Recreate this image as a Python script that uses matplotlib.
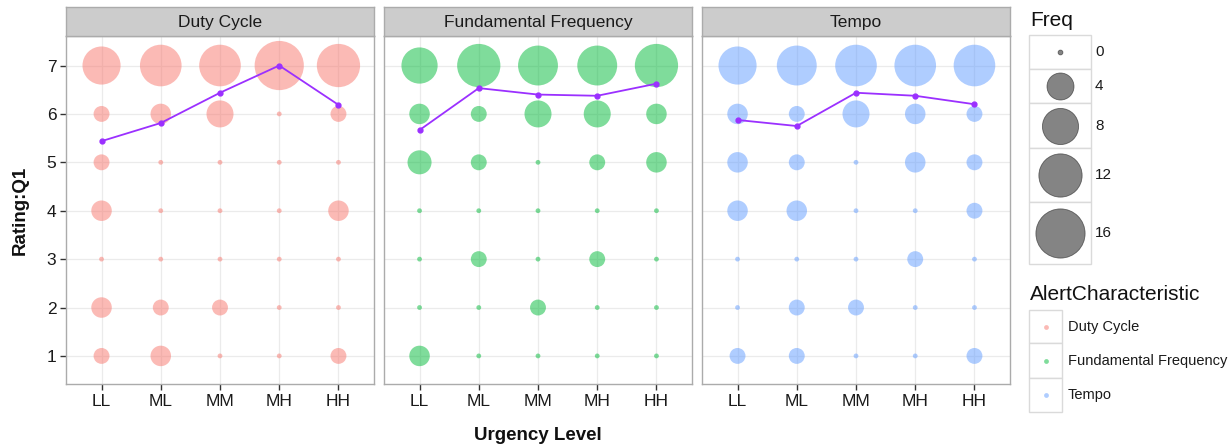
import numpy as np
import matplotlib
matplotlib.use("Agg")
import matplotlib.pyplot as plt
from matplotlib.patches import Rectangle

plt.rcParams['font.family'] = ['Liberation Sans', 'DejaVu Sans']

# ---- data -------------------------------------------------------------
levels = ["LL", "ML", "MM", "MH", "HH"]
ratings = [1, 2, 3, 4, 5, 6, 7]
characteristics = ["Duty Cycle", "Fundamental Frequency", "Tempo"]
colors = ["#F8766D", "#00BA38", "#619CFF"]

# counts of each rating (1..7) for every urgency level
duty_cycle = [
    [1, 2, 0, 2, 1, 1, 9],
    [2, 1, 0, 0, 0, 2, 11],
    [0, 1, 0, 0, 0, 4, 11],
    [0, 0, 0, 0, 0, 0, 16],
    [1, 0, 0, 2, 0, 1, 12],
]
fundamental_frequency = [
    [2, 0, 0, 0, 3, 2, 8],
    [0, 0, 1, 0, 1, 1, 12],
    [0, 1, 0, 0, 0, 4, 10],
    [0, 0, 1, 0, 1, 4, 10],
    [0, 0, 0, 0, 2, 2, 12],
]
tempo = [
    [1, 0, 0, 2, 2, 2, 9],
    [1, 1, 0, 2, 1, 1, 10],
    [0, 1, 0, 0, 0, 4, 11],
    [0, 0, 1, 0, 2, 2, 11],
    [1, 0, 0, 1, 1, 1, 11],
]
panels = [duty_cycle, fundamental_frequency, tempo]
freq_breaks = [0, 4, 8, 12, 16]

# ---- geometry ---------------------------------------------------------
W, H = 1231, 447
DPI = 100
fig = plt.figure(figsize=(W / DPI, H / DPI), dpi=DPI)


def px_box(left, top, right, bottom):
    return [left / W, 1 - bottom / H, (right - left) / W, (bottom - top) / H]


def size_pts2(f):
    # circle area scale: diameter grows with sqrt(freq)
    d_px = 4.8 + 11.1 * np.sqrt(np.asarray(f, dtype=float))
    return (d_px * 72.0 / DPI) ** 2


panel_x = [(66, 374), (384, 692), (702, 1010)]
panel_top, panel_bottom = 36, 384
strip_top = 7

border_col = "#ABABAB"
grid_col = "#EBEBEB"
line_col = "#9B30FF"

for i, (name, col, data) in enumerate(zip(characteristics, colors, panels)):
    l, r = panel_x[i]
    ax = fig.add_axes(px_box(l, panel_top, r, panel_bottom))
    ax.set_xlim(-0.6, 4.6)
    ax.set_ylim(0.42, 7.61)
    counts = np.array(data)
    xs, ys, fs = [], [], []
    for j in range(len(levels)):
        for k, rt in enumerate(ratings):
            xs.append(j)
            ys.append(rt)
            fs.append(counts[j, k])
    ax.scatter(xs, ys, s=size_pts2(fs), color=col, alpha=0.5,
               linewidths=0, zorder=3)
    means = (counts * np.array(ratings)).sum(axis=1) / counts.sum(axis=1)
    ax.plot(range(len(levels)), means, color=line_col, lw=1.3,
            marker="o", ms=3.5, zorder=4)

    ax.set_xticks(range(len(levels)))
    ax.set_xticklabels(levels)
    ax.set_yticks(ratings)
    ax.grid(True, color=grid_col, lw=0.9, zorder=0)
    ax.set_axisbelow(True)
    for sp in ax.spines.values():
        sp.set_color(border_col)
        sp.set_linewidth(1.0)
    ax.tick_params(axis="both", length=4, width=1, color="#333333",
                   labelsize=12.5, labelcolor="#1a1a1a", pad=3)
    if i == 0:
        ax.set_yticklabels([str(v) for v in ratings])
    else:
        ax.tick_params(axis="y", length=0, labelleft=False)

    sax = fig.add_axes(px_box(l, strip_top, r, panel_top))
    sax.set_xticks([])
    sax.set_yticks([])
    sax.set_facecolor("#CCCCCC")
    for sp in sax.spines.values():
        sp.set_color(border_col)
        sp.set_linewidth(1.0)
    sax.text(0.5, 0.48, name, ha="center", va="center", fontsize=12.5,
             color="#1a1a1a", transform=sax.transAxes)

fig.text(20 / W, 1 - 210 / H, "Rating:Q1", rotation=90, ha="center",
         va="center", fontsize=13.5, fontweight="bold", color="#111111")
fig.text(538 / W, 1 - 436 / H, "Urgency Level", ha="center", va="center",
         fontsize=13.5, fontweight="bold", color="#111111")

# ---- legends (drawn in pixel coordinates) -----------------------------
lax = fig.add_axes([0, 0, 1, 1], facecolor="none")
lax.set_xlim(0, W)
lax.set_ylim(H, 0)
lax.axis("off")

key_col = "#DADADA"
lax.text(1030, 20, "Freq", fontsize=15, ha="left", va="center", color="#111111")
freq_edges = [35, 69.3, 103.3, 148.3, 202.3, 264.3]
for n, fb in enumerate(freq_breaks):
    t, b = freq_edges[n], freq_edges[n + 1]
    lax.add_patch(Rectangle((1029, t), 62, b - t, facecolor="white",
                            edgecolor=key_col, lw=1.0))
    lax.scatter([1060], [(t + b) / 2], s=size_pts2(fb), color="#333333",
                alpha=0.6, edgecolors="#222222", linewidths=0.6, zorder=3)
    lax.text(1095, (t + b) / 2, str(fb), fontsize=11, ha="left",
             va="center", color="#1a1a1a")

lax.text(1030, 295, "AlertCharacteristic", fontsize=15, ha="left",
         va="center", color="#111111")
col_edges = [310, 343.3, 377.7, 411.7]
for n, (name, col) in enumerate(zip(characteristics, colors)):
    t, b = col_edges[n], col_edges[n + 1]
    lax.add_patch(Rectangle((1029, t), 33, b - t, facecolor="white",
                            edgecolor=key_col, lw=1.0))
    lax.scatter([1046], [(t + b) / 2], s=size_pts2(0), color=col, alpha=0.5,
                linewidths=0, zorder=3)
    lax.text(1068, (t + b) / 2, name, fontsize=10.5, ha="left", va="center",
             color="#1a1a1a")

fig.savefig("out.png", dpi=DPI, facecolor="white")
